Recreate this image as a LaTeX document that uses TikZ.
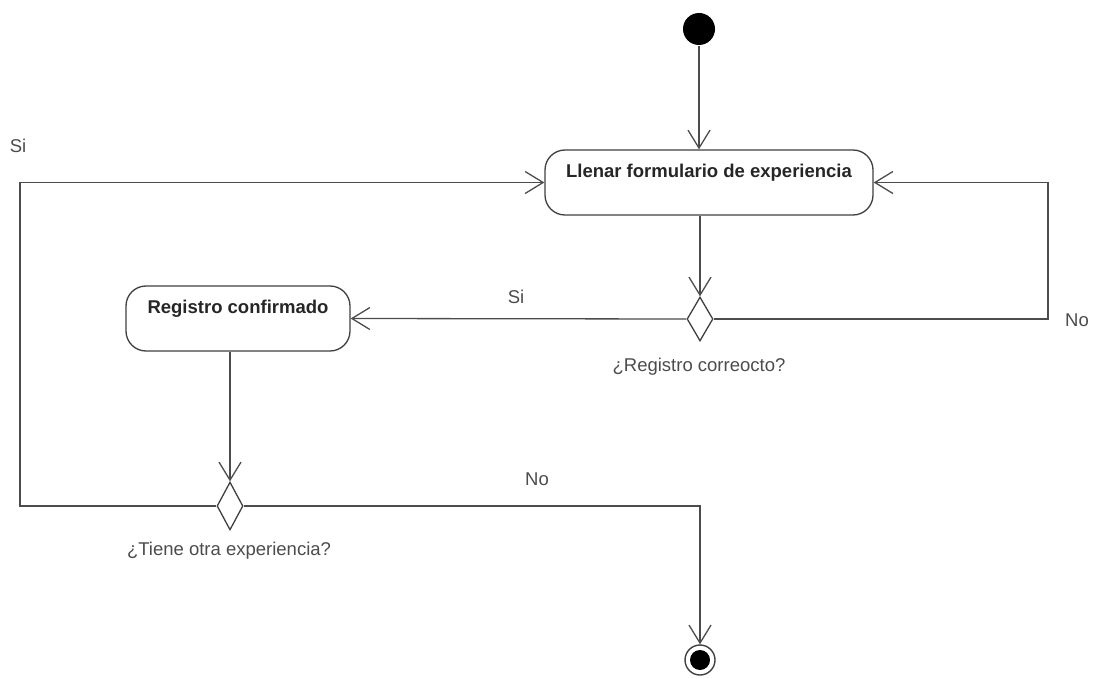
\documentclass[tikz,border=0pt]{standalone}
\usepackage{fontspec}
\setmainfont{Liberation Sans}
\usetikzlibrary{arrows.meta,shapes.geometric}
\begin{document}
\begin{tikzpicture}[x=1pt,y=-1pt,
  line width=1.3pt,
  ln/.style={draw=black!70},
  flow/.style={ln,-{Straight Barb[length=18pt,width=22pt,line width=1.3pt]}},
  activity/.style={draw=black!75,rounded corners=20pt,fill=white,
    font=\fontsize{18.5}{20}\selectfont\bfseries,text=black!85,text height=14pt,text depth=24pt,
    inner sep=0pt,anchor=center},
  choice/.style={draw=black!75,diamond,fill=white,inner sep=0pt,
    minimum width=26pt,minimum height=44pt},
  lbl/.style={font=\fontsize{18.5}{20}\selectfont,text=black!70,inner sep=0pt}]
\useasboundingbox (0,0) rectangle (1095,679);

% start and end
\node[circle,fill=black,minimum size=32pt,inner sep=0pt] (start) at (699,29) {};
\node[circle,draw=black!75,line width=1.4pt,minimum size=30pt,inner sep=0pt] (stop) at (700,660) {};
\node[circle,fill=black,minimum size=20pt,inner sep=0pt] (stopdot) at (700,660) {};

% activities
\node[activity,minimum width=328pt,minimum height=65pt] (fill) at (709,182.5)
  {Llenar formulario de experiencia};
\node[activity,minimum width=224pt,minimum height=65pt] (done) at (238,318.5)
  {Registro confirmado};

% decisions
\node[choice] (ok) at (700,319) {};
\node[choice,minimum height=48pt] (more) at (230,506) {};

% routing corners
\coordinate (noR) at (1048,319);
\coordinate (noRt) at (1048,182.5);
\coordinate (siL) at (20,506);
\coordinate (siLt) at (20,182.5);
\coordinate (noB) at (700,506);

% flows
\draw[flow] (start) -- (start |- fill.north);
\draw[flow] (fill.south -| ok) -- (ok.north);
\draw[flow] (ok.west) -- (done.east);
\draw[flow] (ok.east) -- (noR) -- (noRt) -- (fill.east);
\draw[flow] (done.south -| more) -- (more.north);
\draw[flow] (more.west) -- (siL) -- (siLt) -- (fill.west);
\draw[flow] (more.east) -- (noB) -- (stop.north);

% guards and questions
\node[lbl] (gSi1) at (516,297) {Si};
\node[lbl] (gNo1) at (1077,320) {No};
\node[lbl] (gSi2) at (18,146) {Si};
\node[lbl] (gNo2) at (537,479) {No};
\node[lbl] (q1) at (699,367) {¿Registro correocto?};
\node[lbl] (q2) at (229,551) {¿Tiene otra experiencia?};
\end{tikzpicture}
\end{document}
